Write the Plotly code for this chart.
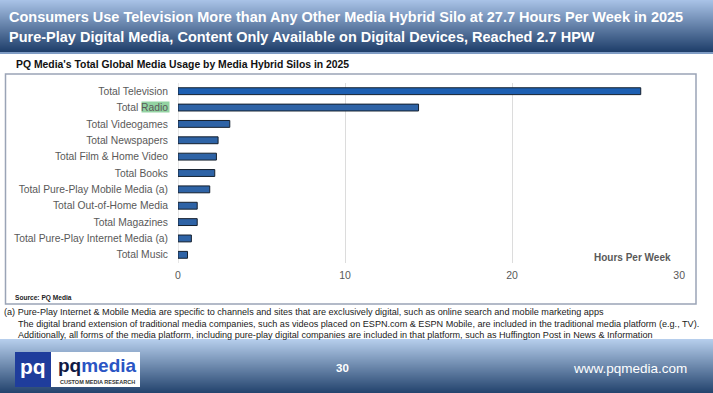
import plotly.graph_objects as go

categories = [
    "Total Television",
    "Total Radio",
    "Total Videogames",
    "Total Newspapers",
    "Total Film & Home Video",
    "Total Books",
    "Total Pure-Play Mobile Media (a)",
    "Total Out-of-Home Media",
    "Total Magazines",
    "Total Pure-Play Internet Media (a)",
    "Total Music",
]
hours_per_week = [27.7, 14.4, 3.1, 2.4, 2.3, 2.2, 1.9, 1.15, 1.15, 0.8, 0.57]
x_ticks = [0, 10, 20, 30]

W, H = 713, 393
L, R, T, B = 178, 680, 83, 263


def px(x):
    return (x - L) / (R - L)


def py(y):
    return (B - y) / (B - T)


def lerp(c1, c2, t):
    return "rgb(%d,%d,%d)" % tuple(round(a + (b - a) * t) for a, b in zip(c1, c2))


bar_colors = ["#1d5fb2"] + ["#2e63a6"] * (len(categories) - 1)

fig = go.Figure()
fig.add_trace(go.Bar(
    y=categories,
    x=hours_per_week,
    orientation="h",
    width=0.42,
    marker=dict(color=bar_colors, line=dict(color="#15202e", width=1)),
    hoverinfo="x+y",
))

shapes = []
# title banner gradient
top_c, bot_c = (168, 194, 230), (28, 60, 104)
n = 53
for i in range(n):
    t = i / (n - 1)
    shapes.append(dict(type="rect", xref="paper", yref="paper",
                       x0=px(0), x1=px(W), y0=py(i), y1=py(i + 1.05),
                       fillcolor=lerp(top_c, bot_c, t), line=dict(width=0), layer="below"))
shapes.append(dict(type="rect", xref="paper", yref="paper", x0=px(0), x1=px(W),
                   y0=py(52), y1=py(54), fillcolor="#7f9cc4", line=dict(width=0), layer="below"))
# footer banner gradient
ftop, fbot = (182, 206, 236), (36, 68, 110)
n2 = 54
for i in range(n2):
    t = i / (n2 - 1)
    shapes.append(dict(type="rect", xref="paper", yref="paper",
                       x0=px(0), x1=px(W), y0=py(339 + i), y1=py(339 + i + 1.05),
                       fillcolor=lerp(ftop, fbot, t), line=dict(width=0), layer="below"))
# chart box
shapes.append(dict(type="rect", xref="paper", yref="paper", x0=px(5.5), x1=px(696),
                   y0=py(74), y1=py(304), fillcolor="rgba(0,0,0,0)",
                   line=dict(color="#9aa4b6", width=1.5), layer="below"))
# green highlight behind "Radio"
shapes.append(dict(type="rect", xref="paper", yref="paper", x0=px(141.5), x1=px(169.5),
                   y0=py(101.5), y1=py(112.5), fillcolor="#93d3a2",
                   line=dict(width=0), layer="below"))
# logo
shapes.append(dict(type="rect", xref="paper", yref="paper", x0=px(15), x1=px(140),
                   y0=py(352), y1=py(387), fillcolor="white", line=dict(width=0)))
shapes.append(dict(type="rect", xref="paper", yref="paper", x0=px(15), x1=px(51),
                   y0=py(352), y1=py(387), fillcolor="#1f3d9c", line=dict(width=0)))

ann = []
title_lines = [
    "Consumers Use Television More than Any Other Media Hybrid Silo at 27.7 Hours Per Week in 2025",
    "Pure-Play Digital Media, Content Only Available on Digital Devices, Reached 2.7 HPW",
]
for k, tl in enumerate(title_lines):
    ann.append(dict(text="<b>%s</b>" % tl, xref="paper", yref="paper", x=px(7), y=py(17 + 20 * k),
                    xanchor="left", yanchor="middle", showarrow=False,
                    font=dict(family="Liberation Sans", size=14.5, color="white")))
ann.append(dict(text="<b>PQ Media's Total Global Media Usage by Media Hybrid Silos in 2025</b>",
                xref="paper", yref="paper", x=px(14), y=py(65), xanchor="left", yanchor="middle",
                showarrow=False, font=dict(family="Liberation Sans", size=10.4, color="#111111")))
ann.append(dict(text="<b>Hours Per Week</b>", xref="paper", yref="paper", x=px(673), y=py(257),
                xanchor="right", yanchor="middle", showarrow=False,
                font=dict(family="Liberation Sans", size=10, color="#595959")))
ann.append(dict(text="<b>Source: PQ Media</b>", xref="paper", yref="paper", x=px(13), y=py(298),
                xanchor="left", yanchor="middle", showarrow=False,
                font=dict(family="Liberation Sans", size=6.6, color="#222222")))
notes = [
    (2, 312, "(a) Pure-Play Internet & Mobile Media are specific to channels and sites that are exclusively digital, such as online search and mobile marketing apps"),
    (16, 323.5, "The digital brand extension of traditional media companies, such as videos placed on ESPN.com & ESPN Mobile, are included in the traditional media platform (e.g., TV)."),
    (16, 335, "Additionally, all forms of the media platform, including pure-play digital companies are included in that platform, such as Huffington Post in News & Information"),
]
for x, y, tx in notes:
    ann.append(dict(text=tx, xref="paper", yref="paper", x=px(x), y=py(y),
                    xanchor="left", yanchor="middle", showarrow=False,
                    font=dict(family="Liberation Sans", size=9.1, color="#1a1a1a")))
ann.append(dict(text="<b>30</b>", xref="paper", yref="paper", x=px(342), y=py(368),
                xanchor="center", yanchor="middle", showarrow=False,
                font=dict(family="Liberation Sans", size=11.5, color="white")))
ann.append(dict(text="www.pqmedia.com", xref="paper", yref="paper", x=px(689), y=py(368),
                xanchor="right", yanchor="middle", showarrow=False,
                font=dict(family="Liberation Sans", size=13.5, color="white")))
ann.append(dict(text="<b>pq</b>", xref="paper", yref="paper", x=px(33), y=py(366),
                xanchor="center", yanchor="middle", showarrow=False,
                font=dict(family="Liberation Sans", size=21, color="white")))
ann.append(dict(text="<b>pq<span style='color:#2a55c4'>media</span></b>", xref="paper", yref="paper",
                x=px(56), y=py(365), xanchor="left", yanchor="middle", showarrow=False,
                font=dict(family="Liberation Sans", size=19, color="#101a44")))
ann.append(dict(text="<b>CUSTOM MEDIA RESEARCH</b>", xref="paper", yref="paper", x=px(97), y=py(382),
                xanchor="center", yanchor="middle", showarrow=False,
                font=dict(family="Liberation Sans", size=5.5, color="#333333")))

fig.update_layout(
    width=W, height=H,
    margin=dict(l=L, r=W - R, t=T, b=H - B, pad=0),
    paper_bgcolor="white", plot_bgcolor="white",
    showlegend=False,
    shapes=shapes,
    annotations=ann,
    xaxis=dict(range=[0, 30.05], tickvals=x_ticks, ticktext=[str(v) for v in x_ticks],
               showgrid=True, gridcolor="#dcdcdc", gridwidth=1, zeroline=False,
               showline=False, ticks="", ticklen=0, ticklabelstandoff=4,
               tickfont=dict(family="Liberation Sans", size=10.5, color="#595959")),
    yaxis=dict(categoryorder="array", categoryarray=categories, autorange="reversed",
               showgrid=False, zeroline=False, showline=False, ticks="", ticklen=0,
               ticklabelstandoff=9,
               tickfont=dict(family="Liberation Sans", size=10.3, color="#595959")),
)
fig.add_vline(x=0, line=dict(color="#d0d0d0", width=1), layer="below")

fig.write_html("out.html", config={"displayModeBar": False},
               post_script="document.body.style.margin='0';document.body.style.overflow='hidden';")
